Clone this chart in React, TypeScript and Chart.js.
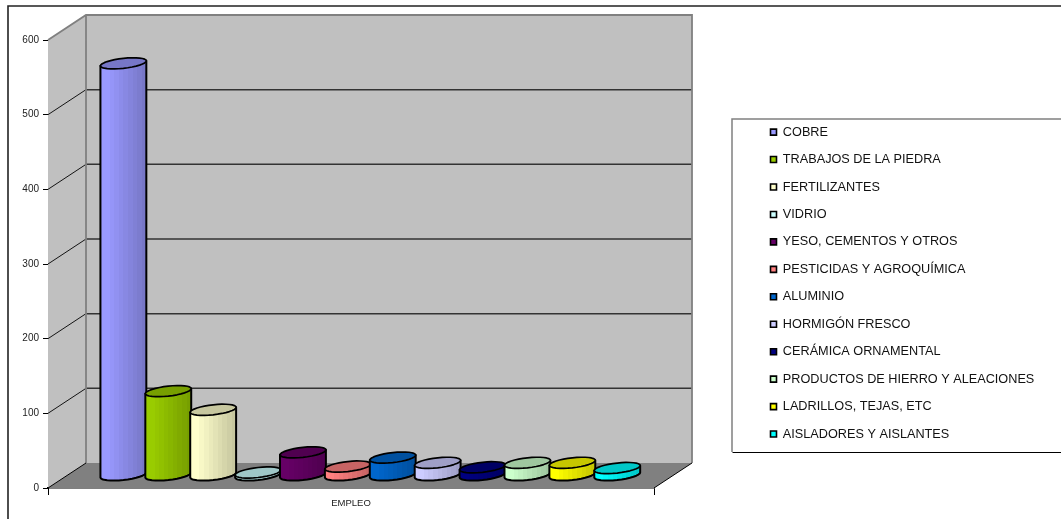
import React, { useEffect, useRef } from "react";
import { Chart, registerables } from "chart.js";

Chart.register(...registerables);

const categories = ["EMPLEO"];
const seriesNames = [
  "COBRE",
  "TRABAJOS DE LA PIEDRA",
  "FERTILIZANTES",
  "VIDRIO",
  "YESO, CEMENTOS Y OTROS",
  "PESTICIDAS Y AGROQUÍMICA",
  "ALUMINIO",
  "HORMIGÓN FRESCO",
  "CERÁMICA ORNAMENTAL",
  "PRODUCTOS DE HIERRO Y ALEACIONES",
  "LADRILLOS, TEJAS, ETC",
  "AISLADORES Y AISLANTES",
];
const seriesValues = [552, 113, 88, 4, 31, 12, 24, 17, 11, 17, 17, 10];
const seriesColors = [
  [153, 153, 255],
  [153, 204, 0],
  [255, 255, 204],
  [204, 255, 255],
  [102, 0, 102],
  [255, 128, 128],
  [0, 102, 204],
  [204, 204, 255],
  [0, 0, 128],
  [204, 255, 204],
  [255, 255, 0],
  [0, 255, 255],
];

const DX = 38;
const DY = 25;
const FONT = "'Liberation Sans', Arial, sans-serif";
const LEGEND_PAD = 14.75;

const rgb = (c: number[], k: number) =>
  `rgb(${Math.round(c[0] * k)},${Math.round(c[1] * k)},${Math.round(c[2] * k)})`;

function ellipsePoint(cx: number, cy: number, a: number, t: number) {
  return [cx + a * Math.cos(t), cy - 2.5 * Math.cos(t) + 5 * Math.sin(t)];
}

function drawCylinder(ctx: CanvasRenderingContext2D, bar: any, color: number[]) {
  const cx = bar.x + DX / 2 + 0.3;
  const a = bar.width / 2 + 0.5;
  const top = bar.y - DY / 2;
  const bottom = bar.base - DY / 2;
  const n = 16;

  ctx.lineJoin = "round";
  ctx.beginPath();
  const [lx, ly] = ellipsePoint(cx, top, a, Math.PI);
  ctx.moveTo(lx, ly);
  for (let i = 0; i <= n; i++) {
    const [x, y] = ellipsePoint(cx, bottom, a, Math.PI - (Math.PI * i) / n);
    ctx.lineTo(x, y);
  }
  const [rx, ry] = ellipsePoint(cx, top, a, 0);
  ctx.lineTo(rx, ry);
  ctx.closePath();
  const g = ctx.createLinearGradient(cx - a, 0, cx + a, 0);
  const bands = 10;
  for (let i = 0; i < bands; i++) {
    const k = i < 2 ? 1 : 1 - ((i - 1) / (bands - 2)) * 0.22;
    g.addColorStop(i / bands, rgb(color, k));
    g.addColorStop((i + 1) / bands, rgb(color, k));
  }
  ctx.fillStyle = g;
  ctx.fill();
  ctx.strokeStyle = "#000";
  ctx.lineWidth = 2;
  ctx.stroke();

  ctx.beginPath();
  for (let i = 0; i < n * 2; i++) {
    const [x, y] = ellipsePoint(cx, top, a, (Math.PI * i) / n);
    if (i === 0) ctx.moveTo(x, y);
    else ctx.lineTo(x, y);
  }
  ctx.closePath();
  ctx.fillStyle = rgb(color, 0.78);
  ctx.fill();
  ctx.lineWidth = 1.7;
  ctx.stroke();
}

const cylinders3d = {
  id: "cylinders3d",
  beforeDraw(chart: any) {
    const { ctx } = chart;
    ctx.save();
    ctx.fillStyle = "#fff";
    ctx.fillRect(0, 0, chart.width, chart.height);
    ctx.strokeStyle = "#222";
    ctx.lineWidth = 1.6;
    ctx.beginPath();
    ctx.moveTo(8, 519);
    ctx.lineTo(8, 6);
    ctx.lineTo(1061, 6);
    ctx.stroke();
    ctx.restore();
  },
  afterLayout(chart: any) {
    const l = chart.legend;
    l.left = 770.5 - LEGEND_PAD;
    l.right = 1061;
    l.top = 111;
    l.bottom = 519;
    l.width = l.right - l.left;
    l.height = l.bottom - l.top;
  },
  beforeDatasetsDraw(chart: any) {
    const { ctx, chartArea: a, scales } = chart;
    const y = scales.y;
    ctx.save();
    const zero = y.getPixelForValue(0);
    const max = y.getPixelForValue(600);
    // side wall
    ctx.beginPath();
    ctx.moveTo(a.left, zero);
    ctx.lineTo(a.left + DX, zero - DY);
    ctx.lineTo(a.left + DX, max - DY);
    ctx.lineTo(a.left, max);
    ctx.closePath();
    ctx.fillStyle = "#c0c0c0";
    ctx.fill();
    // back wall
    ctx.fillRect(a.left + DX, max - DY, a.right - a.left, zero - max);
    // floor
    ctx.beginPath();
    ctx.moveTo(a.left, zero);
    ctx.lineTo(a.right, zero);
    ctx.lineTo(a.right + DX, zero - DY);
    ctx.lineTo(a.left + DX, zero - DY);
    ctx.closePath();
    ctx.fillStyle = "#808080";
    ctx.fill();
    // grid lines
    for (const t of y.ticks) {
      const p = y.getPixelForValue(t.value);
      if (t.value === 0 || t.value === 600) continue;
      ctx.strokeStyle = "#000";
      ctx.lineWidth = 0.9;
      ctx.beginPath();
      ctx.moveTo(a.left, p);
      ctx.lineTo(a.left + DX, p - DY);
      ctx.stroke();
      ctx.strokeStyle = "#333";
      ctx.lineWidth = 1.5;
      ctx.beginPath();
      ctx.moveTo(a.left + DX, p - DY);
      ctx.lineTo(a.right + DX, p - DY);
      ctx.stroke();
    }
    // wall edges
    ctx.strokeStyle = "#808080";
    ctx.lineWidth = 1.8;
    ctx.beginPath();
    ctx.moveTo(a.left, max);
    ctx.lineTo(a.left + DX, max - DY);
    ctx.lineTo(a.right + DX, max - DY);
    ctx.lineTo(a.right + DX, zero - DY);
    ctx.moveTo(a.left + DX, max - DY);
    ctx.lineTo(a.left + DX, zero - DY);
    ctx.stroke();
    // floor edges
    ctx.strokeStyle = "#000";
    ctx.lineWidth = 1;
    ctx.beginPath();
    ctx.moveTo(a.left, zero);
    ctx.lineTo(a.left + DX, zero - DY);
    ctx.moveTo(a.right, zero);
    ctx.lineTo(a.right + DX, zero - DY);
    ctx.stroke();
    // cylinders
    chart.data.datasets.forEach((_: any, i: number) => {
      const bar = chart.getDatasetMeta(i).data[0];
      drawCylinder(ctx, bar, seriesColors[i]);
    });
    ctx.restore();
    return false;
  },
};

const legendFrame = {
  id: "legendFrame",
  afterDraw(chart: any) {
    const { ctx } = chart;
    ctx.save();
    ctx.strokeStyle = "#000";
    ctx.lineWidth = 1;
    ctx.beginPath();
    ctx.moveTo(1061, 452.5);
    ctx.lineTo(732.5, 452.5);
    ctx.stroke();
    ctx.strokeStyle = "#808080";
    ctx.lineWidth = 1.5;
    ctx.beginPath();
    ctx.moveTo(732, 452);
    ctx.lineTo(732, 119);
    ctx.lineTo(1061, 119);
    ctx.stroke();
    ctx.restore();
  },
};

export default function App() {
  const ref = useRef<HTMLCanvasElement>(null);
  useEffect(() => {
    document.body.style.margin = "0";
    const chart = new Chart(ref.current!, {
      type: "bar",
      data: {
        labels: categories,
        datasets: seriesNames.map((name, i) => ({
          label: name,
          data: [seriesValues[i]],
          backgroundColor: rgb(seriesColors[i], 1),
          borderColor: "#000",
          borderWidth: 1.6,
        })),
      },
      plugins: [cylinders3d, legendFrame],
      options: {
        animation: false,
        responsive: false,
        devicePixelRatio: 1,
        layout: { padding: { top: 40, right: 407, left: 0, bottom: 0 } },
        datasets: { bar: { categoryPercentage: 0.889, barPercentage: 1 } },
        plugins: {
          tooltip: { enabled: false },
          title: { display: false },
          legend: {
            position: "chartArea",
            align: "start",
            labels: {
              boxWidth: 6,
              boxHeight: 6,
              padding: LEGEND_PAD,
              color: "#111",
              font: { family: FONT, size: 12.7 },
            },
          },
        },
        scales: {
          x: {
            afterFit: (s: any) => {
              s.height = 31;
            },
            border: { color: "#000", width: 1.5 },
            grid: { drawOnChartArea: false, tickLength: 7, color: "#000", offset: true },
            ticks: { color: "#222", padding: 3, font: { family: FONT, size: 9.5 } },
          },
          y: {
            min: 0,
            max: 600,
            afterFit: (s: any) => {
              s.width = 48;
            },
            border: { color: "#000", width: 1 },
            grid: { drawOnChartArea: false, tickLength: 5, color: "#000" },
            ticks: { stepSize: 100, color: "#222", padding: 4, font: { family: FONT, size: 10 } },
          },
        },
      } as any,
    });
    return () => chart.destroy();
  }, []);
  return <canvas ref={ref} width={1061} height={519} style={{ display: "block" }} />;
}
